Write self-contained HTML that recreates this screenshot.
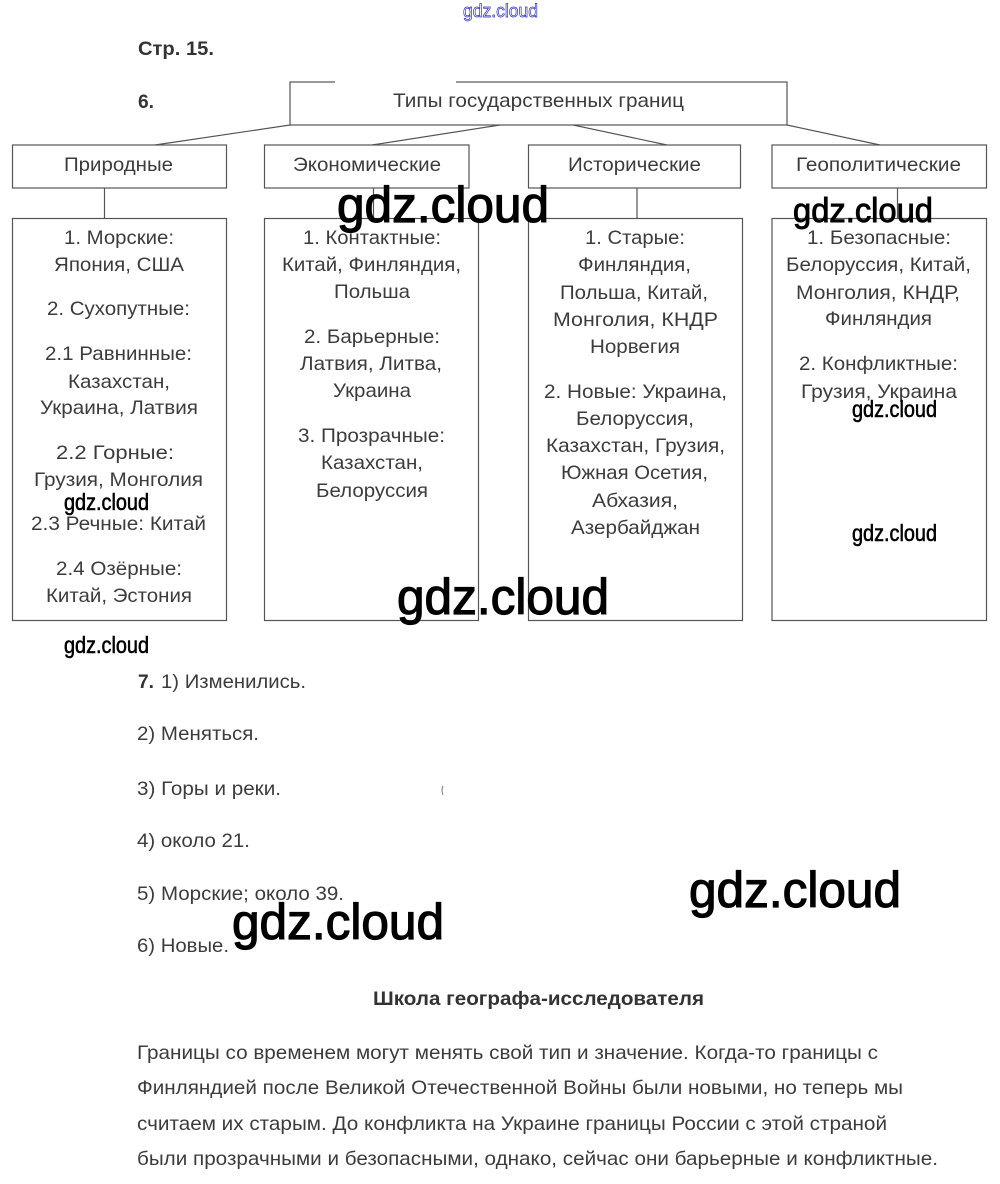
<!DOCTYPE html>
<html lang="ru"><head><meta charset="utf-8"><title>Типы государственных границ</title>
<style>
html,body{margin:0;padding:0;background:#fff;width:1000px;height:1184px;overflow:hidden}
svg{display:block}
text{font-family:"Liberation Sans",sans-serif;font-size:19.5px;fill:#3c3c3c}
.b{font-weight:bold;fill:#333}
.w{font-family:"Liberation Sans",sans-serif;fill:#000;stroke:#000}
.L{font-size:50px;stroke-width:1.2px}
.M{font-size:34px;stroke-width:.9px}
.S{font-size:23px;stroke-width:.55px}
.box{fill:#fff;stroke:#555;stroke-width:1.2}
.ln{stroke:#555;stroke-width:1.2;fill:none}
</style></head><body>
<svg width="1000" height="1184" viewBox="0 0 1000 1184" xmlns="http://www.w3.org/2000/svg">
<text x="463" y="17" textLength="75" lengthAdjust="spacingAndGlyphs" style="font-size:18px;fill:#fff;stroke:#2a2ac0;stroke-width:.7px">gdz.cloud</text>

<rect class="box" x="290" y="82" width="497" height="43"/>
<line x1="335" y1="82" x2="456" y2="82" stroke="#fff" stroke-width="2.5"/>
<line class="ln" x1="290" y1="125" x2="155" y2="145"/>
<line class="ln" x1="500" y1="125" x2="372" y2="145"/>
<line class="ln" x1="573" y1="125" x2="667" y2="145"/>
<line class="ln" x1="787" y1="125" x2="880" y2="145"/>
<line class="ln" x1="104.5" y1="188" x2="104.5" y2="218"/>
<line class="ln" x1="373.5" y1="188" x2="373.5" y2="218"/>
<line class="ln" x1="637" y1="188" x2="637" y2="218"/>
<line class="ln" x1="897.5" y1="188" x2="897.5" y2="218"/>

<rect class="box" x="12.5" y="145" width="214" height="43"/>
<rect class="box" x="264.5" y="145" width="204.5" height="43"/>
<rect class="box" x="528.5" y="145" width="212" height="43"/>
<rect class="box" x="772" y="145" width="214.5" height="43"/>
<rect class="box" x="12.5" y="218.5" width="214" height="402"/>
<rect class="box" x="264.5" y="218.5" width="214" height="402"/>
<rect class="box" x="528.5" y="218.5" width="214" height="402"/>
<rect class="box" x="772" y="218.5" width="214.5" height="402"/>

<text class="b" x="138" y="55" textLength="76" lengthAdjust="spacingAndGlyphs">Стр. 15.</text>
<text class="b" x="138" y="108" textLength="16" lengthAdjust="spacingAndGlyphs">6.</text>
<text x="393" y="107" textLength="291" lengthAdjust="spacingAndGlyphs">Типы государственных границ</text>
<text x="64" y="171" textLength="109" lengthAdjust="spacingAndGlyphs">Природные</text>
<text x="293" y="171" textLength="148" lengthAdjust="spacingAndGlyphs">Экономические</text>
<text x="568" y="171" textLength="133" lengthAdjust="spacingAndGlyphs">Исторические</text>
<text x="796" y="171" textLength="165" lengthAdjust="spacingAndGlyphs">Геополитические</text>

<text x="64" y="244" textLength="110" lengthAdjust="spacingAndGlyphs">1. Морские:</text>
<text x="54" y="271" textLength="130" lengthAdjust="spacingAndGlyphs">Япония, США</text>
<text x="47" y="315" textLength="143" lengthAdjust="spacingAndGlyphs">2. Сухопутные:</text>
<text x="45" y="360" textLength="147" lengthAdjust="spacingAndGlyphs">2.1 Равнинные:</text>
<text x="68" y="388" textLength="102" lengthAdjust="spacingAndGlyphs">Казахстан,</text>
<text x="40" y="414" textLength="158" lengthAdjust="spacingAndGlyphs">Украина, Латвия</text>
<text x="56" y="459" textLength="118" lengthAdjust="spacingAndGlyphs">2.2 Горные:</text>
<text x="34" y="486" textLength="169" lengthAdjust="spacingAndGlyphs">Грузия, Монголия</text>
<text x="31" y="530" textLength="175" lengthAdjust="spacingAndGlyphs">2.3 Речные: Китай</text>
<text x="56" y="575" textLength="126" lengthAdjust="spacingAndGlyphs">2.4 Озёрные:</text>
<text x="46" y="602" textLength="146" lengthAdjust="spacingAndGlyphs">Китай, Эстония</text>

<text x="303" y="244" textLength="138" lengthAdjust="spacingAndGlyphs">1. Контактные:</text>
<text x="282" y="271" textLength="179" lengthAdjust="spacingAndGlyphs">Китай, Финляндия,</text>
<text x="334" y="298" textLength="76" lengthAdjust="spacingAndGlyphs">Польша</text>
<text x="304" y="343" textLength="136" lengthAdjust="spacingAndGlyphs">2. Барьерные:</text>
<text x="300" y="370" textLength="142" lengthAdjust="spacingAndGlyphs">Латвия, Литва,</text>
<text x="333" y="397" textLength="78" lengthAdjust="spacingAndGlyphs">Украина</text>
<text x="298" y="442" textLength="147" lengthAdjust="spacingAndGlyphs">3. Прозрачные:</text>
<text x="321" y="469" textLength="102" lengthAdjust="spacingAndGlyphs">Казахстан,</text>
<text x="316" y="497" textLength="112" lengthAdjust="spacingAndGlyphs">Белоруссия</text>

<text x="585" y="244" textLength="100" lengthAdjust="spacingAndGlyphs">1. Старые:</text>
<text x="578" y="271" textLength="113" lengthAdjust="spacingAndGlyphs">Финляндия,</text>
<text x="560" y="299" textLength="148" lengthAdjust="spacingAndGlyphs">Польша, Китай,</text>
<text x="553" y="326" textLength="165" lengthAdjust="spacingAndGlyphs">Монголия, КНДР</text>
<text x="590" y="353" textLength="90" lengthAdjust="spacingAndGlyphs">Норвегия</text>
<text x="544" y="398" textLength="183" lengthAdjust="spacingAndGlyphs">2. Новые: Украина,</text>
<text x="576" y="425" textLength="118" lengthAdjust="spacingAndGlyphs">Белоруссия,</text>
<text x="546" y="452" textLength="179" lengthAdjust="spacingAndGlyphs">Казахстан, Грузия,</text>
<text x="561" y="479" textLength="147" lengthAdjust="spacingAndGlyphs">Южная Осетия,</text>
<text x="592" y="507" textLength="86" lengthAdjust="spacingAndGlyphs">Абхазия,</text>
<text x="571" y="534" textLength="129" lengthAdjust="spacingAndGlyphs">Азербайджан</text>

<text x="807" y="244" textLength="144" lengthAdjust="spacingAndGlyphs">1. Безопасные:</text>
<text x="786" y="271" textLength="185" lengthAdjust="spacingAndGlyphs">Белоруссия, Китай,</text>
<text x="796" y="299" textLength="164" lengthAdjust="spacingAndGlyphs">Монголия, КНДР,</text>
<text x="825" y="325" textLength="107" lengthAdjust="spacingAndGlyphs">Финляндия</text>
<text x="799" y="370" textLength="159" lengthAdjust="spacingAndGlyphs">2. Конфликтные:</text>
<text x="801" y="398" textLength="156" lengthAdjust="spacingAndGlyphs">Грузия, Украина</text>

<text class="b" x="138" y="688" textLength="16" lengthAdjust="spacingAndGlyphs">7.</text>
<text x="161" y="688" textLength="145" lengthAdjust="spacingAndGlyphs">1) Изменились.</text>
<text x="137" y="740" textLength="122" lengthAdjust="spacingAndGlyphs">2) Меняться.</text>
<text x="137" y="795" textLength="144" lengthAdjust="spacingAndGlyphs">3) Горы и реки.</text>
<text x="137" y="847" textLength="113" lengthAdjust="spacingAndGlyphs">4) около 21.</text>
<text x="137" y="900" textLength="207" lengthAdjust="spacingAndGlyphs">5) Морские; около 39.</text>
<text x="137" y="952" textLength="92" lengthAdjust="spacingAndGlyphs">6) Новые.</text>
<path d="M443 786q-2 4 0 9" stroke="#777" stroke-width="1" fill="none"/>

<text class="b" x="373" y="1005" textLength="331" lengthAdjust="spacingAndGlyphs">Школа географа-исследователя</text>
<text x="137" y="1059" textLength="741" lengthAdjust="spacingAndGlyphs">Границы со временем могут менять свой тип и значение. Когда-то границы с</text>
<text x="137" y="1094" textLength="766" lengthAdjust="spacingAndGlyphs">Финляндией после Великой Отечественной Войны были новыми, но теперь мы</text>
<text x="137" y="1130" textLength="750" lengthAdjust="spacingAndGlyphs">считаем их старым. До конфликта на Украине границы России с этой страной</text>
<text x="137" y="1165" textLength="801" lengthAdjust="spacingAndGlyphs">были прозрачными и безопасными, однако, сейчас они барьерные и конфликтные.</text>

<text class="w L" x="337" y="222" textLength="212" lengthAdjust="spacingAndGlyphs">gdz.cloud</text>
<text class="w L" x="397" y="614" textLength="212" lengthAdjust="spacingAndGlyphs">gdz.cloud</text>
<text class="w L" x="689" y="907" textLength="212" lengthAdjust="spacingAndGlyphs">gdz.cloud</text>
<text class="w L" x="232" y="939" textLength="212" lengthAdjust="spacingAndGlyphs">gdz.cloud</text>
<text class="w M" x="793" y="222" textLength="140" lengthAdjust="spacingAndGlyphs">gdz.cloud</text>
<text class="w S" x="64" y="510" textLength="85" lengthAdjust="spacingAndGlyphs">gdz.cloud</text>
<text class="w S" x="64" y="653" textLength="85" lengthAdjust="spacingAndGlyphs">gdz.cloud</text>
<text class="w S" x="852" y="417" textLength="85" lengthAdjust="spacingAndGlyphs">gdz.cloud</text>
<text class="w S" x="852" y="541" textLength="85" lengthAdjust="spacingAndGlyphs">gdz.cloud</text>
</svg>
</body></html>
